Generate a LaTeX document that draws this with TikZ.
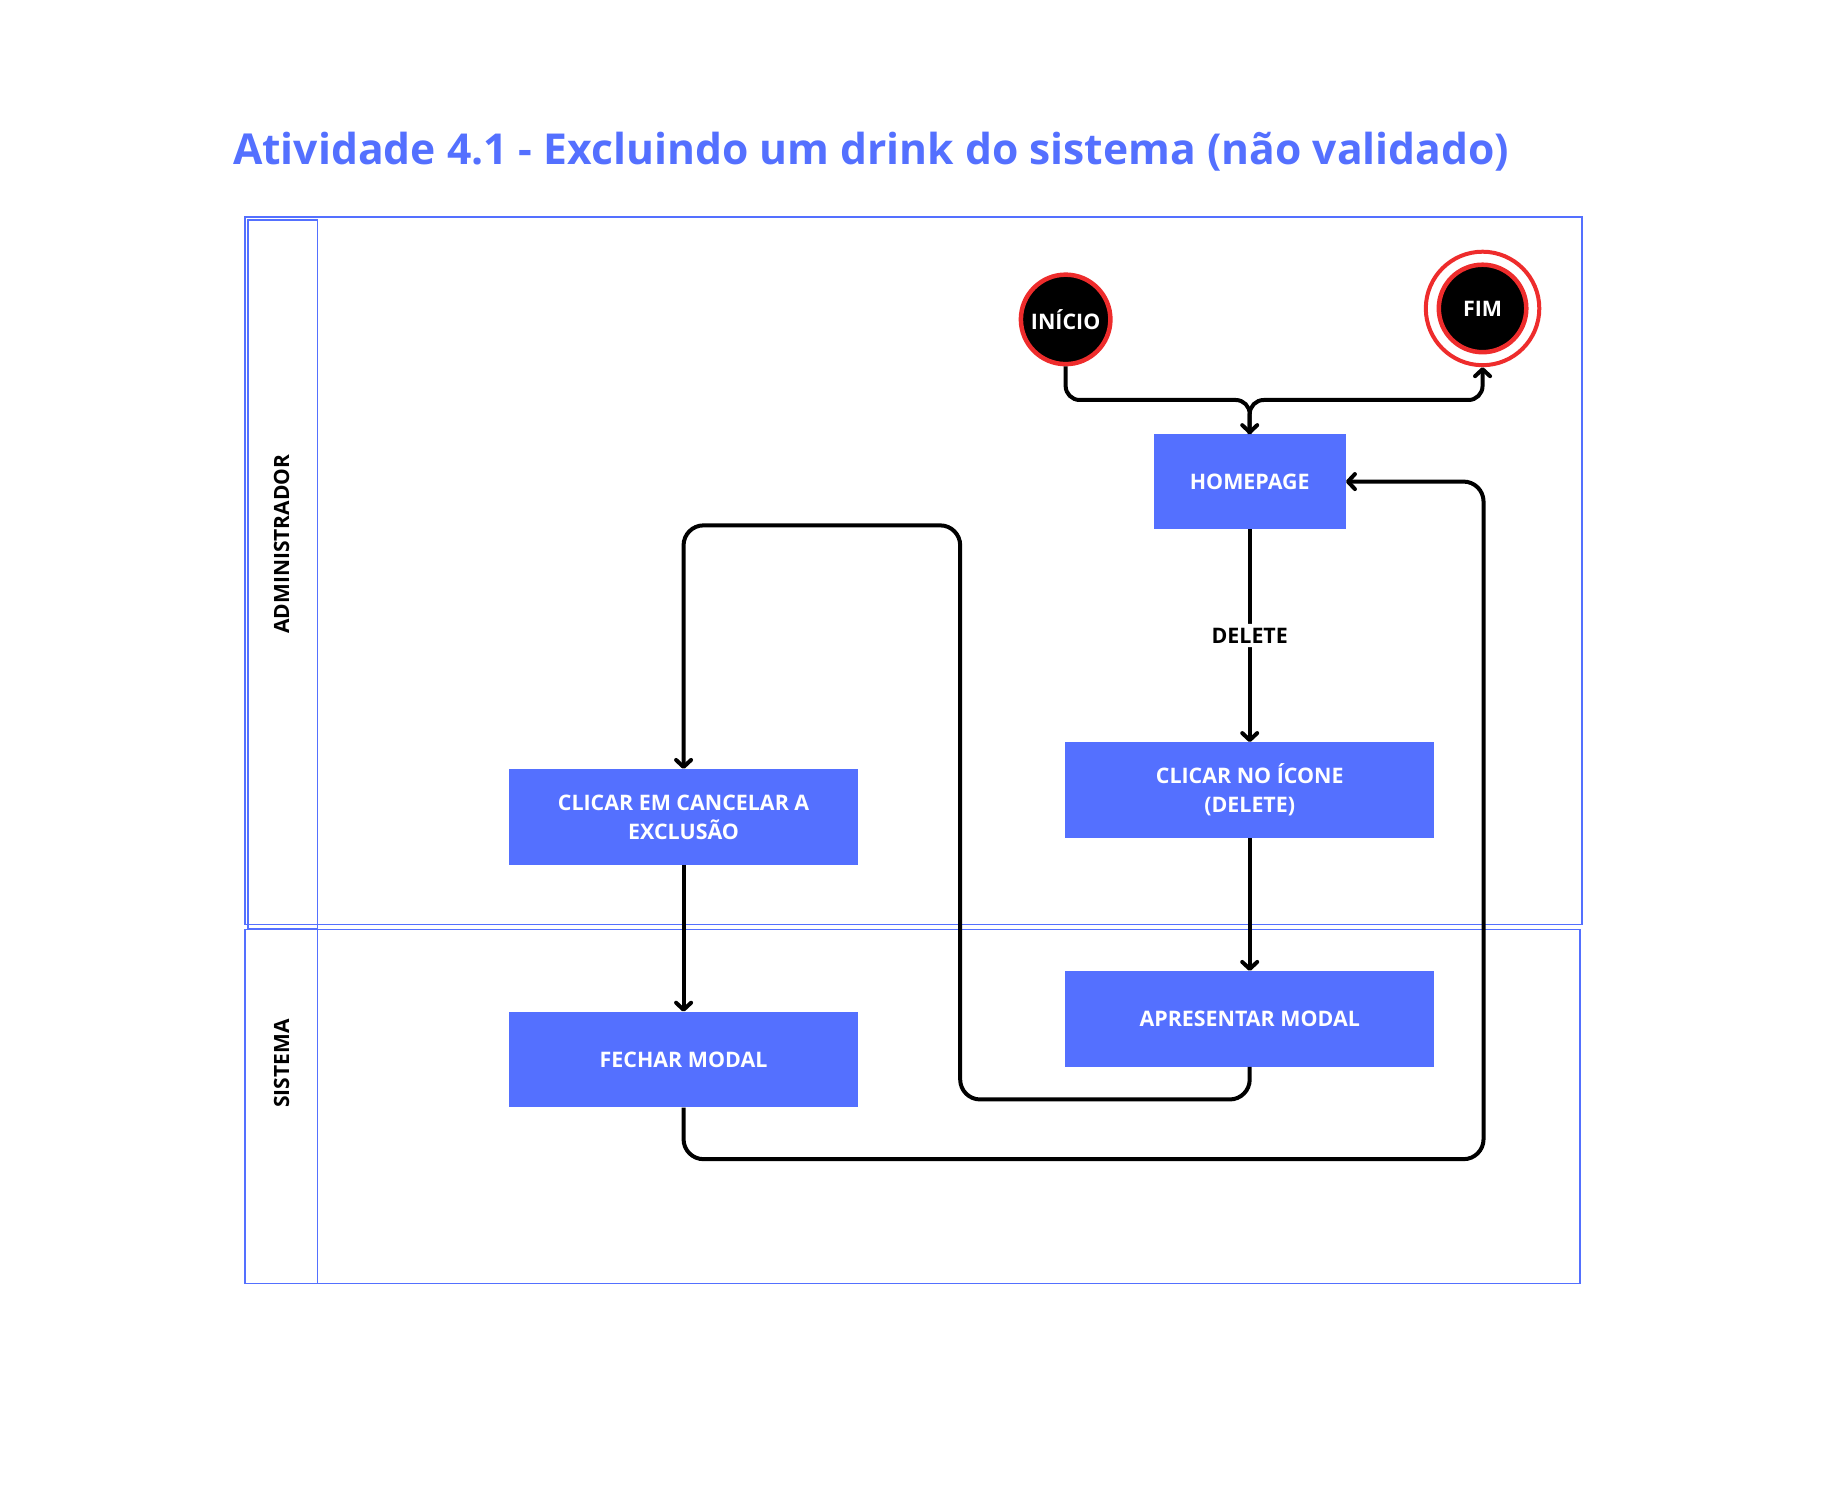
\documentclass[tikz,border=0pt]{standalone}
\usepackage{fontspec}
\setmainfont{Open Sans}
\usetikzlibrary{arrows.meta, positioning, calc}
\definecolor{laneblue}{RGB}{84,112,255}
\definecolor{ringred}{RGB}{238,44,44}
\newcommand{\boxfont}{\fontsize{21.4}{29}\selectfont\bfseries}
\tikzset{
    lane/.style={draw=laneblue, line width=1.5pt},
    lanelabel/.style={rotate=90, font=\fontsize{21}{25}\selectfont\bfseries},
    activity/.style={fill=laneblue, text=white, font=\boxfont, align=center,
        minimum width=349pt, minimum height=95.5pt, inner sep=0pt},
    state/.style={circle, fill=black, draw=ringred, line width=4.5pt, text=white,
        font=\boxfont, minimum size=89.5pt, inner sep=0pt},
    endring/.style={circle, draw=ringred, line width=4pt, minimum size=113.5pt, inner sep=0pt},
    flow/.style={-{Straight Barb[length=7pt, width=15pt, round]}, line width=4pt,
        rounded corners=20pt}
}
\begin{document}
\begin{tikzpicture}[x=0.995pt, y=-0.995pt]
    \useasboundingbox (0,0) rectangle (1839.2,1492.5);
    % Title
    \node[anchor=base west, inner sep=0pt, text=laneblue, font=\fontsize{42.6}{51}\selectfont\bfseries]
        (title) at (234,165) {Atividade 4.1 - Excluindo um drink do sistema (não validado)};
    % Lanes
    \draw[lane] (246,218) rectangle (1590,929);
    \draw[lane] (249,221) rectangle (319,933);
    \draw[lane] (246,934) rectangle (1588,1290);
    \draw[lane] (246,934) rectangle (319,1290);
    \node[lanelabel] (admin) at (283,547) {ADMINISTRADOR};
    \node[lanelabel] (sistema) at (283,1069) {SISTEMA};
    % States
    \node[state] (inicio) at (1071,321) {INÍCIO};
    \node[state, minimum size=87.5pt] (fim) at (1490,310) {FIM};
    \node[endring] (fimring) at (fim) {};
    % Activities
    \node[activity, minimum width=192pt, minimum height=94.5pt] (home) at (1256,484) {HOMEPAGE};
    \node[activity, minimum width=369pt] (icone) at (1256,794) {CLICAR NO ÍCONE\\(DELETE)};
    \node[activity, minimum width=369pt] (modal) at (1256,1024) {APRESENTAR MODAL};
    \node[activity] (cancel) at (687,821) {CLICAR EM CANCELAR A\\EXCLUSÃO};
    \node[activity] (fechar) at (687,1065) {FECHAR MODAL};
    % Bends
    \coordinate (fork) at (1256,402);
    \coordinate (loopbot) at (965,1105);
    \coordinate (looptop) at (965,528);
    \coordinate (backbot) at (1491,1165);
    % Flows
    \draw[flow, rounded corners=14pt] (inicio.south) |- (fork) -- (home.north);
    \draw[flow, rounded corners=14pt] (home.north) -- (fork) -| (fimring.south);
    \draw[flow] (home.south) -- node[fill=white, font=\boxfont, text=black, inner sep=4pt] (del) {DELETE} (icone.north);
    \draw[flow] (icone.south) -- (modal.north);
    \draw[flow] (modal.south) |- (loopbot) -- (looptop) -| (cancel.north);
    \draw[flow] (cancel.south) -- (fechar.north);
    \draw[flow] (fechar.south) |- (backbot) |- (home.east);
\end{tikzpicture}
\end{document}
